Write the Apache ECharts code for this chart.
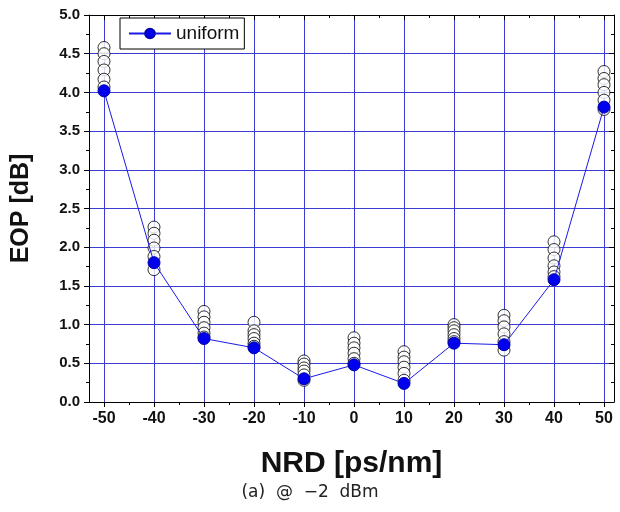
<!DOCTYPE html>
<html>
<head>
<meta charset="utf-8">
<script src="https://cdn.jsdelivr.net/npm/echarts@6/dist/echarts.min.js"></script>
<style>
  html, body { margin: 0; padding: 0; background: #fff; }
  #chart { width: 620px; height: 512px; }
</style>
</head>
<body>
<div id="chart"></div>
<script>
// NRD positions (ps/nm)
const nrd = [-50, -40, -30, -20, -10, 0, 10, 20, 30, 40, 50];
const xMajor = [-50, -40, -30, -20, -10, 0, 10, 20, 30, 40, 50];
const xMinor = [-45, -35, -25, -15, -5, 5, 15, 25, 35, 45];

// blue "uniform" curve (EOP in dB)
const uniform = [4.02, 1.80, 0.82, 0.70, 0.30, 0.48, 0.24, 0.76, 0.74, 1.58, 3.81];

// white markers: other runs at each NRD
const run1 = [4.58, 2.26, 1.17, 1.03, 0.53, 0.83, 0.65, 1.00, 1.12, 2.07, 4.27];
const run2 = [4.50, 2.18, 1.10, 0.92, 0.49, 0.76, 0.58, 0.96, 1.05, 1.97, 4.18];
const run3 = [4.40, 2.09, 1.03, 0.87, 0.44, 0.70, 0.52, 0.92, 0.97, 1.86, 4.10];
const run4 = [4.29, 1.99, 0.96, 0.82, 0.40, 0.63, 0.45, 0.87, 0.88, 1.76, 4.00];
const run5 = [4.17, 1.88, 0.89, 0.76, 0.35, 0.56, 0.37, 0.82, 0.78, 1.68, 3.90];
const run6 = [4.07, 1.71, 0.84, 0.72, 0.28, 0.50, 0.28, 0.78, 0.67, 1.62, 3.78];
const runs = [run1, run2, run3, run4, run5, run6];

const gridBlue = '#3c3cd4';
const font = 'Arial, "Liberation Sans", sans-serif';
const xMin = -53, xMax = 52;

const chart = echarts.init(document.getElementById('chart'));

const whiteSeries = runs.map((r, i) => ({
  name: 'run' + (i + 1),
  type: 'scatter',
  symbol: 'circle',
  symbolSize: 12,
  itemStyle: { color: '#fff', borderColor: '#000', borderWidth: 1 },
  z: 3,
  data: nrd.map((x, j) => [x, r[j]])
}));

const option = {
  animation: false,
  backgroundColor: '#fff',
  grid: { left: 89, right: 6, top: 15, bottom: 110, containLabel: false },
  legend: {
    data: ['uniform'],
    left: 120, top: 18,
    itemWidth: 42, itemHeight: 12, itemGap: 5,
    padding: [6, 5, 6, 8],
    backgroundColor: '#fff',
    borderColor: '#000', borderWidth: 1, borderRadius: 0,
    textStyle: { fontFamily: font, fontSize: 19, color: '#111' }
  },
  xAxis: [
    {
      type: 'value', min: xMin, max: xMax, position: 'bottom',
      axisLine: { show: true, onZero: false, lineStyle: { color: '#000', width: 1 } },
      axisTick: { show: true, inside: false, length: 5, customValues: xMajor, lineStyle: { color: '#000' } },
      axisLabel: { customValues: xMajor, fontFamily: font, fontSize: 16, fontWeight: 'bold', color: '#111', margin: 9 },
      splitLine: { show: true, lineStyle: { color: gridBlue, width: 1 } },
      name: 'NRD [ps/nm]', nameLocation: 'middle', nameGap: 47,
      nameTextStyle: { fontFamily: font, fontSize: 30, fontWeight: 'bold', color: '#111' }
    },
    {
      type: 'value', min: xMin, max: xMax, position: 'bottom',
      axisLine: { show: false, onZero: false },
      axisTick: { show: true, inside: false, length: 3, customValues: xMinor, lineStyle: { color: '#000' } },
      axisLabel: { show: false }, splitLine: { show: false }
    },
    {
      type: 'value', min: xMin, max: xMax, position: 'top',
      axisLine: { show: true, onZero: false, lineStyle: { color: '#000', width: 1 } },
      axisTick: { show: true, inside: true, length: 5, customValues: xMajor, lineStyle: { color: '#000' } },
      axisLabel: { show: false }, splitLine: { show: false }
    },
    {
      type: 'value', min: xMin, max: xMax, position: 'top',
      axisLine: { show: false, onZero: false },
      axisTick: { show: true, inside: true, length: 3, customValues: xMinor, lineStyle: { color: '#000' } },
      axisLabel: { show: false }, splitLine: { show: false }
    }
  ],
  yAxis: [
    {
      type: 'value', min: 0, max: 5, interval: 0.5, position: 'left',
      axisLine: { show: true, onZero: false, lineStyle: { color: '#000', width: 1 } },
      axisTick: { show: true, inside: false, length: 5, lineStyle: { color: '#000' } },
      minorTick: { show: true, splitNumber: 2, length: 3, lineStyle: { color: '#000' } },
      axisLabel: { fontFamily: font, fontSize: 15, fontWeight: 'bold', color: '#111', margin: 9,
        formatter: v => v.toFixed(1) },
      splitLine: { show: true, lineStyle: { color: gridBlue, width: 1 } },
      name: 'EOP [dB]', nameLocation: 'middle', nameGap: 55, nameRotate: 90,
      nameTextStyle: { fontFamily: font, fontSize: 25, fontWeight: 'bold', color: '#111' }
    },
    {
      type: 'value', min: 0, max: 5, interval: 0.5, position: 'right',
      axisLine: { show: true, onZero: false, lineStyle: { color: '#000', width: 1 } },
      axisTick: { show: true, inside: true, length: 5, lineStyle: { color: '#000' } },
      minorTick: { show: true, splitNumber: 2, length: 3, lineStyle: { color: '#000' } },
      axisLabel: { show: false }, splitLine: { show: false }
    }
  ],
  graphic: [
    {
      type: 'text', left: 'center', top: 484,
      style: { text: '(a)  @  −2  dBm', font: '17px "DejaVu Sans", sans-serif', fill: '#222' }
    }
  ],
  series: [
    ...whiteSeries,
    {
      name: 'uniform',
      type: 'line',
      symbol: 'circle',
      symbolSize: 12,
      showAllSymbol: true,
      lineStyle: { color: '#1a1ae6', width: 1 },
      itemStyle: { color: '#0000ee', borderColor: '#0000aa', borderWidth: 1 },
      z: 5,
      data: nrd.map((x, j) => [x, uniform[j]])
    }
  ]
};

chart.setOption(option);
</script>
</body>
</html>
